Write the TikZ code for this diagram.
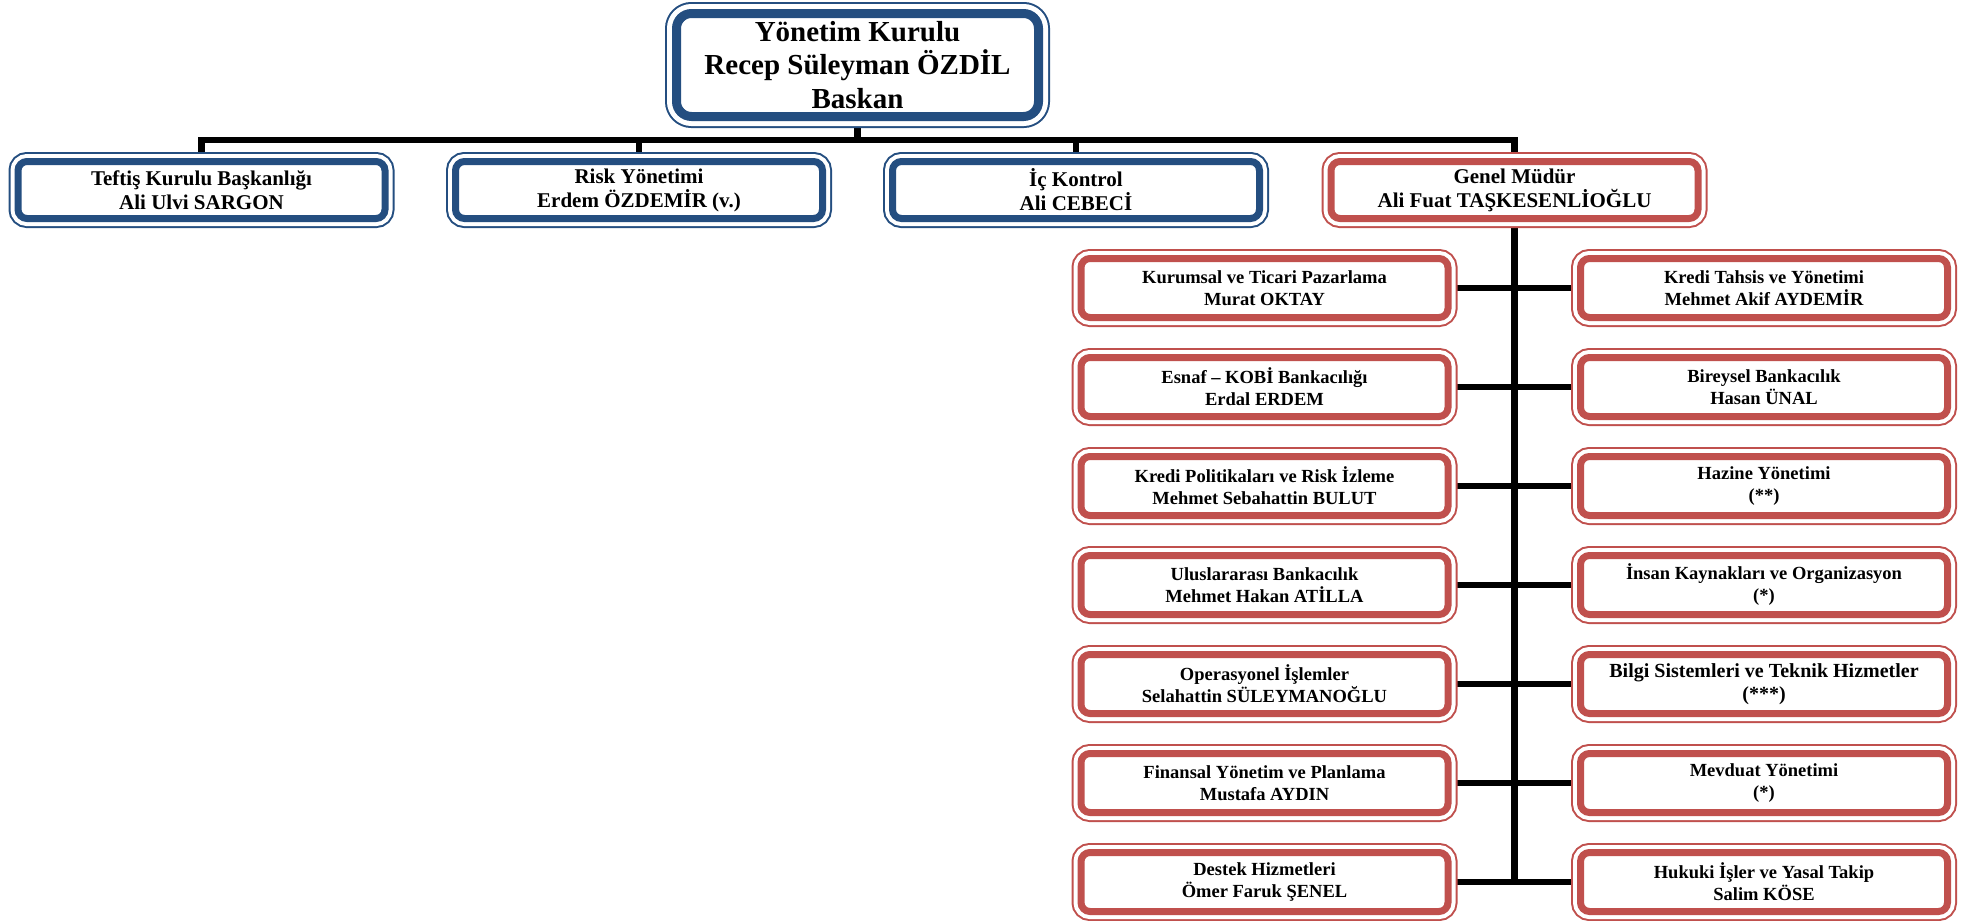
\documentclass[tikz,border=0pt]{standalone}
\usepackage{fontspec}
\setmainfont{Liberation Serif}
\usetikzlibrary{backgrounds}
\definecolor{bl}{RGB}{36,78,128}
\definecolor{rd}{RGB}{192,80,77}
\tikzset{
  bigbox/.style={draw=#1, line width=9pt, fill=white, rounded corners=15pt,
    minimum width=362pt, minimum height=103pt, inner sep=0pt, outer sep=0pt,
    align=center, font=\fontsize{29}{33.5}\selectfont\bfseries,
    preaction={draw=#1, line width=23pt, rounded corners=15pt},
    preaction={draw=white, line width=19pt, rounded corners=15pt}},
  smallbox/.style={draw=#1, line width=7pt, fill=white, rounded corners=9pt,
    minimum width=367pt, minimum height=57pt, inner sep=0pt, outer sep=0pt,
    align=center, font=\fontsize{21}{24}\selectfont\bfseries,
    preaction={draw=#1, line width=19pt, rounded corners=9pt},
    preaction={draw=white, line width=15pt, rounded corners=9pt}},
  redbox/.style={smallbox=rd, minimum height=59pt,
    font=\fontsize{18.5}{22}\selectfont\bfseries},
  conn/.style={draw=black, line width=6.5pt, line join=miter},
}
\begin{document}
\begin{tikzpicture}[x=1pt,y=-1pt]
\useasboundingbox (0,0) rectangle (1974,921);
% top
\node[bigbox=bl] (top) at (857.5,65) {Yönetim Kurulu\\Recep Süleyman ÖZDİL\\Baskan};
% second row
\node[smallbox=bl] (tef) at (201.5,190) {Teftiş Kurulu Başkanlığı\\Ali Ulvi SARGON};
\node[smallbox=bl] (risk) at (639,190) {Risk Yönetimi\\Erdem ÖZDEMİR (v.)};
\node[smallbox=bl] (ic) at (1076,190) {İç Kontrol\\Ali CEBECİ};
\node[smallbox=rd] (gm) at (1514.5,190) {Genel Müdür\\Ali Fuat TAŞKESENLİOĞLU};
% red columns
\node[redbox] (l1) at (1264.5,288) {Kurumsal ve Ticari Pazarlama\\Murat OKTAY};
\node[redbox] (r1) at (1764,288) {Kredi Tahsis ve Yönetimi\\Mehmet Akif AYDEMİR};
\node[redbox] (l2) at (1264.5,387) {Esnaf – KOBİ Bankacılığı\\Erdal ERDEM};
\node[redbox] (r2) at (1764,387) {Bireysel Bankacılık\\Hasan ÜNAL};
\node[redbox] (l3) at (1264.5,486) {Kredi Politikaları ve Risk İzleme\\Mehmet Sebahattin BULUT};
\node[redbox] (r3) at (1764,486) {Hazine Yönetimi\\(**)};
\node[redbox] (l4) at (1264.5,585) {Uluslararası Bankacılık\\Mehmet Hakan ATİLLA};
\node[redbox] (r4) at (1764,585) {İnsan Kaynakları ve Organizasyon\\(*)};
\node[redbox] (l5) at (1264.5,684) {Operasyonel İşlemler\\Selahattin SÜLEYMANOĞLU};
\node[redbox, font=\fontsize{20}{23}\selectfont\bfseries] (r5) at (1764,684) {Bilgi Sistemleri ve Teknik Hizmetler\\(***)};
\node[redbox] (l6) at (1264.5,783) {Finansal Yönetim ve Planlama\\Mustafa AYDIN};
\node[redbox] (r6) at (1764,783) {Mevduat Yönetimi\\(*)};
\node[redbox] (l7) at (1264.5,882) {Destek Hizmetleri\\Ömer Faruk ŞENEL};
\node[redbox] (r7) at (1764,882) {Hukuki İşler ve Yasal Takip\\Salim KÖSE};
\coordinate (bus) at (0,140);
\begin{pgfonlayer}{background}
\draw[conn] (tef.north) -- (tef.north |- bus) -- (gm.north |- bus) -- (gm.north);
\draw[conn] (top.south) -- (top.south |- bus);
\draw[conn] (risk.north) -- (risk.north |- bus);
\draw[conn] (ic.north) -- (ic.north |- bus);
\draw[conn] (gm.south) -- (gm.south |- l7.east);
\foreach \k in {1,...,7}{
  \draw[conn] (l\k.east) -- (r\k.west);
}
\end{pgfonlayer}
\end{tikzpicture}
\end{document}
